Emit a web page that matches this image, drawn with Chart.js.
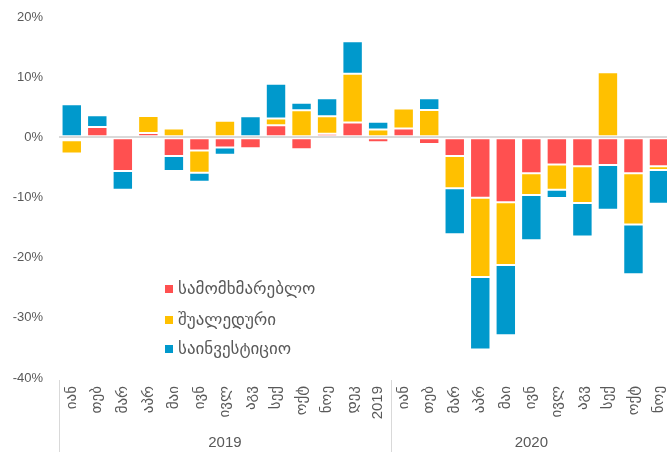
<!DOCTYPE html>
<html>
<head>
<meta charset="utf-8">
<script src="https://cdn.jsdelivr.net/npm/chart.js@4.4.1/dist/chart.umd.min.js"></script>
<style>
html,body{margin:0;padding:0;background:#fff;overflow:hidden;width:667px;height:452px;}
canvas{display:block;}
</style>
</head>
<body>
<canvas id="c" width="685" height="452"></canvas>
<script>
const categories = ['იან','თებ','მარ','აპრ','მაი','ივნ','ივლ','აგვ','სექ','ოქტ','ნოე','დეკ','2019',
                    'იან','თებ','მარ','აპრ','მაი','ივნ','ივლ','აგვ','სექ','ოქტ','ნოე'];
const groupLabels = ['2019','2020'];
const groupSizes = [13, 11];
const seriesNames = ['სამომხმარებლო','შუალედური','საინვესტიციო'];
const consumer =     [-0.5, 1.7, -5.6, 0.7, -3.1, -2.2, -1.7, -1.8, 2.0, -2.0, 0.6, 2.45, -0.8,
                       1.45, -1.1, -3.1, -10.05, -10.8, -5.95, -4.5, -4.8, -4.6, -5.95, -4.8];
const intermediate = [-2.2, -0.4, 0, 2.85, 1.45, -3.7, 2.75, 0, 1.15, 4.5, 2.9, 8.1, 1.3,
                       3.35, 4.55, -5.35, -13.15, -10.4, -3.65, -4.2, -6.1, 10.8, -8.55, -0.65];
const investment =   [5.5, 1.95, -3.1, -0.3, -2.5, -1.5, -1.2, 3.5, 5.75, 1.25, 3.0, 5.4, 1.3,
                       -0.5, 1.95, -7.65, -12.05, -11.7, -7.5, -1.4, -5.6, -7.45, -8.25, -5.6];
const yTicks = [20, 10, 0, -10, -20, -30, -40];

const colors = ['#FF5050', '#FFC000', '#0099CC'];
const textColor = '#595959';
const FONT = "'Liberation Sans', 'DejaVu Sans', sans-serif";

const overlay = {
  id: 'overlay',
  afterDraw(chart) {
    const ctx = chart.ctx;
    const x = chart.scales.x;
    const area = chart.chartArea;
    const half = (x.getPixelForValue(1) - x.getPixelForValue(0)) / 2;
    ctx.save();
    ctx.strokeStyle = '#d9d9d9';
    ctx.lineWidth = 1;
    let start = 0;
    const bounds = [x.getPixelForValue(0) - half];
    groupSizes.forEach(n => { start += n; bounds.push(x.getPixelForValue(start - 1) + half); });
    bounds.forEach(b => {
      const px = Math.round(b) + 0.5;
      ctx.beginPath(); ctx.moveTo(px, area.bottom + 2); ctx.lineTo(px, chart.height); ctx.stroke();
    });
    ctx.fillStyle = textColor;
    ctx.font = '15px ' + FONT;
    ctx.textAlign = 'center';
    ctx.textBaseline = 'middle';
    for (let i = 0; i < groupLabels.length; i++) {
      ctx.fillText(groupLabels[i], (bounds[i] + bounds[i + 1]) / 2, 443);
    }
    ctx.font = '17px ' + FONT;
    ctx.textAlign = 'left';
    const ys = [289, 320, 349];
    chart.data.datasets.forEach((ds, i) => {
      ctx.fillStyle = ds.backgroundColor;
      ctx.fillRect(165, ys[i] - 4, 8, 8);
      ctx.fillStyle = textColor;
      ctx.fillText(ds.label, 178, ys[i]);
    });
    ctx.restore();
  }
};

new Chart(document.getElementById('c'), {
  type: 'bar',
  data: {
    labels: categories,
    datasets: [
      { label: seriesNames[0], data: consumer, backgroundColor: colors[0] },
      { label: seriesNames[1], data: intermediate, backgroundColor: colors[1] },
      { label: seriesNames[2], data: investment, backgroundColor: colors[2] }
    ].map(d => Object.assign(d, { borderColor: '#ffffff', borderWidth: 1, borderSkipped: false }))
  },
  options: {
    responsive: false,
    animation: false,
    devicePixelRatio: 1,
    layout: { padding: { top: 17, right: 0, left: 0, bottom: 0 } },
    datasets: { bar: { barPercentage: 0.8, categoryPercentage: 1.0 } },
    plugins: { legend: { display: false }, tooltip: { enabled: false } },
    scales: {
      x: {
        stacked: true,
        grid: { display: false, drawTicks: false },
        border: { display: false },
        ticks: {
          color: textColor, font: { size: 15, family: FONT },
          minRotation: 90, maxRotation: 90, autoSkip: false, padding: 8
        },
        afterFit(scale) { scale.height = 74; }
      },
      y: {
        stacked: true,
        min: -40, max: 20,
        afterBuildTicks(scale) { scale.ticks = yTicks.map(v => ({ value: v })); },
        grid: {
          drawTicks: true,
          tickLength: 13,
          tickColor: 'rgba(0,0,0,0)',
          color: ctx => ctx.tick && ctx.tick.value === 0 ? '#d9d9d9' : 'rgba(0,0,0,0)',
          lineWidth: ctx => ctx.tick && ctx.tick.value === 0 ? 2 : 0
        },
        border: { display: false },
        ticks: {
          color: textColor, font: { size: 13, family: FONT }, padding: 3,
          callback: v => v + '%'
        },
        afterFit(scale) { scale.width = 59; }
      }
    }
  },
  plugins: [overlay]
});
</script>
</body>
</html>
